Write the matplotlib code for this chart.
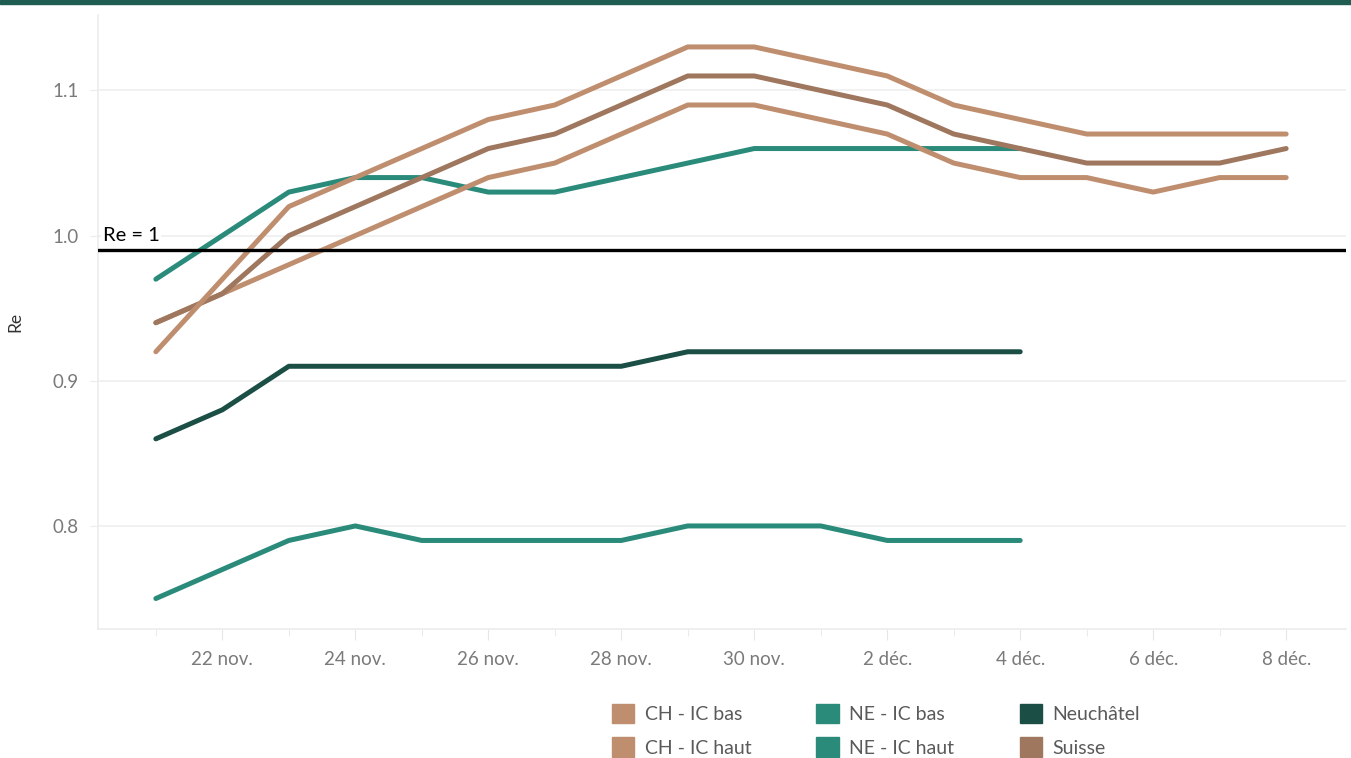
import numpy as np
import matplotlib.pyplot as plt
from matplotlib.patches import Patch, Rectangle

plt.rcParams['font.family'] = ['Lato', 'DejaVu Sans']

# days since 21 nov.
days = np.arange(18)
tick_days = np.arange(1, 18, 2)
tick_labels = ["22 nov.", "24 nov.", "26 nov.", "28 nov.", "30 nov.",
               "2 déc.", "4 déc.", "6 déc.", "8 déc."]

ch_bas = [0.94, 0.96, 0.98, 1.00, 1.02, 1.04, 1.05, 1.07, 1.09, 1.09,
          1.08, 1.07, 1.05, 1.04, 1.04, 1.03, 1.04, 1.04]
ch_haut = [0.92, 0.97, 1.02, 1.04, 1.06, 1.08, 1.09, 1.11, 1.13, 1.13,
           1.12, 1.11, 1.09, 1.08, 1.07, 1.07, 1.07, 1.07]
suisse = [0.94, 0.96, 1.00, 1.02, 1.04, 1.06, 1.07, 1.09, 1.11, 1.11,
          1.10, 1.09, 1.07, 1.06, 1.05, 1.05, 1.05, 1.06]
ne_haut = [0.97, 1.00, 1.03, 1.04, 1.04, 1.03, 1.03, 1.04, 1.05, 1.06,
           1.06, 1.06, 1.06, 1.06]
neuchatel = [0.86, 0.88, 0.91, 0.91, 0.91, 0.91, 0.91, 0.91, 0.92, 0.92,
             0.92, 0.92, 0.92, 0.92]
ne_bas = [0.75, 0.77, 0.79, 0.80, 0.79, 0.79, 0.79, 0.79, 0.80, 0.80,
          0.80, 0.79, 0.79, 0.79]

c_ch = "#bf8e6f"
c_suisse = "#9e775e"
c_ne = "#2a8b7b"
c_neu = "#1b4f46"

fig = plt.figure(figsize=(13.51, 7.58), dpi=100)
ax = fig.add_axes([98 / 1351, 1 - 629 / 758, (1346 - 98) / 1351, (629 - 15) / 758])

fig.patches.append(Rectangle((0, 1 - 4 / 758), 1, 4 / 758, transform=fig.transFigure,
                             color="#1f5c52", zorder=10))

lw = 3.6
ax.plot(days[:len(ne_bas)], ne_bas, color=c_ne, lw=lw, solid_capstyle="round", zorder=3)
ax.plot(days[:len(neuchatel)], neuchatel, color=c_neu, lw=lw, solid_capstyle="round", zorder=3)
ax.plot(days[:len(ne_haut)], ne_haut, color=c_ne, lw=lw, solid_capstyle="round", zorder=3)
ax.plot(days, ch_bas, color=c_ch, lw=lw, solid_capstyle="round", zorder=4)
ax.plot(days, suisse, color=c_suisse, lw=lw, solid_capstyle="round", zorder=4)
ax.plot(days, ch_haut, color=c_ch, lw=lw, solid_capstyle="round", zorder=4)

ax.axhline(0.99, color="black", lw=2.4, zorder=5)
ax.text(-0.8, 1.0, "Re = 1", fontsize=14.5, color="black", va="center", ha="left",
        bbox=dict(facecolor="white", edgecolor="none", pad=1), zorder=2)

ax.set_xlim(-0.87, 17.9)
ax.set_ylim(0.729, 1.152)
ax.set_yticks([0.8, 0.9, 1.0, 1.1])
ax.set_yticklabels(["0.8", "0.9", "1.0", "1.1"])
ax.set_xticks(tick_days)
ax.set_xticklabels(tick_labels)
ax.set_xticks(days, minor=True)
ax.grid(axis="y", color="#efefef", lw=1.2, zorder=0)
ax.set_axisbelow(True)

for side in ["top", "right"]:
    ax.spines[side].set_visible(False)
for side in ["left", "bottom"]:
    ax.spines[side].set_color("#ececec")
    ax.spines[side].set_linewidth(1.2)

ax.tick_params(axis="y", length=6, color="#ececec", labelsize=13.5, labelcolor="#7a7a7a", pad=8)
ax.tick_params(axis="x", which="both", length=8, color="#e6e6e6", labelsize=13.5,
               labelcolor="#7a7a7a", pad=8)
ax.tick_params(axis="x", which="minor", length=5)
ax.set_ylabel("Re", fontsize=12.5, color="#333333")
ax.yaxis.set_label_coords(-0.06, 0.5)

handles = [Patch(color=c_ch), Patch(color=c_ch), Patch(color=c_ne),
           Patch(color=c_ne), Patch(color=c_neu), Patch(color=c_suisse)]
labels = ["CH - IC bas", "CH - IC haut", "NE - IC bas", "NE - IC haut", "Neuchâtel", "Suisse"]
fig.legend(handles, labels, ncol=3, loc="upper left", bbox_to_anchor=(594 / 1351, 1 - 686 / 758),
           frameon=False, fontsize=14, labelcolor="#5a5a5a", handlelength=1.15, handleheight=1.15,
           handletextpad=0.55, columnspacing=3.35, labelspacing=0.75)

fig.savefig("out.png", dpi=100)
